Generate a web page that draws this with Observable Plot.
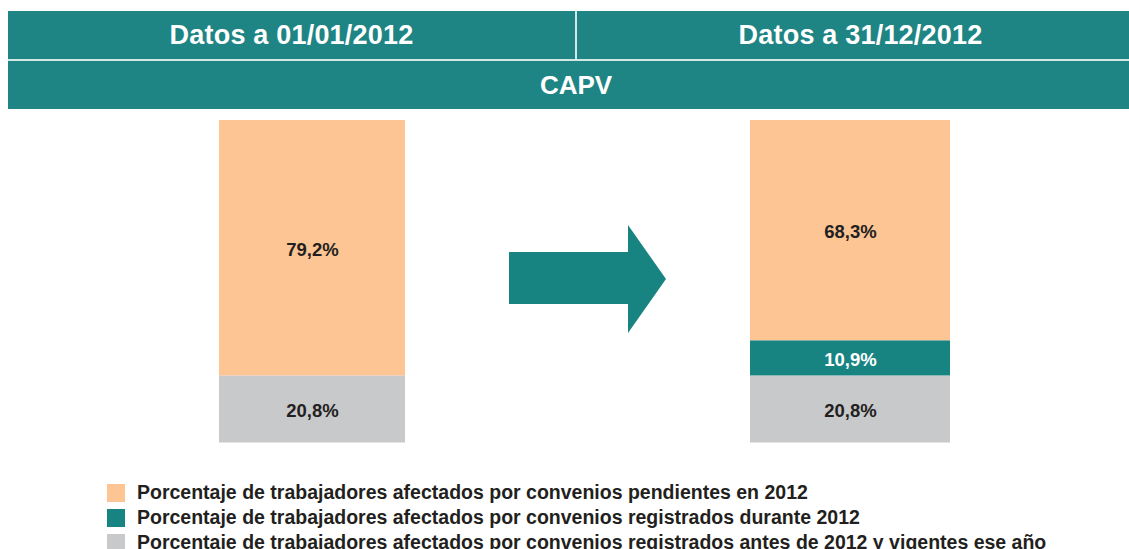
<!DOCTYPE html>
<html>
<head>
<meta charset="utf-8">
<script src="https://cdn.jsdelivr.net/npm/d3@7"></script>
<script src="https://cdn.jsdelivr.net/npm/@observablehq/plot@0.6"></script>
<style>
  html, body { margin: 0; padding: 0; background: #fff; overflow: hidden; }
  body { width: 1129px; height: 549px; position: relative; font-family: "Liberation Sans", Arial, sans-serif; }
  #header { position: absolute; left: 8px; top: 11px; width: 1136px; height: 98px; background: #1f8584; color: #fff; font-weight: bold; }
  #header .row1 { position: absolute; left: 0; top: 0; width: 100%; height: 48px; border-bottom: 2px solid #d3e8e6; display: flex; }
  #header .cell { flex: none; display: flex; align-items: center; justify-content: center; font-size: 27px; letter-spacing: 0.2px; height: 48px; }
  #header .cell.left { width: 567px; border-right: 2px solid #d3e8e6; }
  #header .cell.right { width: 567px; }
  #header .row2 { position: absolute; left: 0; top: 50px; width: 100%; height: 48px; display: flex; align-items: center; justify-content: center; font-size: 26px; }
  #chart { position: absolute; left: 0; top: 109px; }
  #arrow { position: absolute; left: 509px; top: 225px; width: 157px; height: 108px; background: #178482;
           clip-path: polygon(0 27px, 119px 27px, 119px 0, 157px 54px, 119px 108px, 119px 79px, 0 79px); }
  #legend { position: absolute; left: 107px; top: 480px; }
  #legend .item { display: flex; align-items: center; height: 25px; font-size: 19.5px; font-weight: bold; color: #231f20; white-space: nowrap; }
  #legend .sw { width: 18px; height: 18px; margin-right: 12px; flex: none; }
</style>
</head>
<body>
<div id="header">
  <div class="row1"><div class="cell left" id="h1"></div><div class="cell right" id="h2"></div></div>
  <div class="row2" id="h3"></div>
</div>
<div id="chart"></div>
<div id="arrow"></div>
<div id="legend"></div>
<script>
// ---- data ----
const periods = ["Datos a 01/01/2012", "Datos a 31/12/2012"];
const region = "CAPV";
const categories = ["pendientes", "registradosDurante", "registradosAntes"];
const pendientes = [79.2, 68.3];
const registradosDurante = [0, 10.9];
const registradosAntes = [20.8, 20.8];
const legendLabels = [
  "Porcentaje de trabajadores afectados por convenios pendientes en 2012",
  "Porcentaje de trabajadores afectados por convenios registrados durante 2012",
  "Porcentaje de trabajadores afectados por convenios registrados antes de 2012 y vigentes ese año"
];
const colors = ["#fdc594", "#178482", "#c8c9cb"];
const labelColors = ["#231f20", "#ffffff", "#231f20"];

document.getElementById("h1").textContent = periods[0];
document.getElementById("h2").textContent = periods[1];
document.getElementById("h3").textContent = region;

// build stacked table (bottom to top: antes, durante, pendientes)
const series = [pendientes, registradosDurante, registradosAntes];
const rows = [];
periods.forEach((p, i) => {
  let base = 0;
  [2, 1, 0].forEach(c => {
    const v = series[c][i];
    rows.push({period: p, idx: i, cat: categories[c], c, value: v, y1: base, y2: base + v});
    base += v;
  });
});

const halfWidths = [93, 100];
const fmt = v => v.toFixed(1).replace(".", ",") + "%";

const marks = [];
periods.forEach((p, i) => {
  marks.push(Plot.rect(rows.filter(d => d.idx === i && d.value > 0), {
    x1: "idx", x2: "idx", y1: "y1", y2: "y2",
    fill: d => colors[d.c],
    insetLeft: -halfWidths[i], insetRight: -halfWidths[i]
  }));
});
marks.push(Plot.text(rows.filter(d => d.value > 0), {
  x: "idx", y: d => (d.y1 + d.y2) / 2, text: d => fmt(d.value),
  fill: d => labelColors[d.c], fontSize: 18.5, fontWeight: "bold", dy: 1.5
}));

const chart = Plot.plot({
  width: 1129,
  height: 360,
  margin: 0,
  x: {type: "linear", domain: [0, 1], range: [312, 850], axis: null},
  y: {domain: [0, 100], range: [333.5, 11], axis: null},
  style: {fontFamily: "'Liberation Sans', Arial, sans-serif", background: "transparent"},
  marks
});
document.getElementById("chart").appendChild(chart);

const legend = document.getElementById("legend");
legendLabels.forEach((t, k) => {
  const item = document.createElement("div");
  item.className = "item";
  const sw = document.createElement("div");
  sw.className = "sw";
  sw.style.background = colors[k];
  const lab = document.createElement("span");
  lab.textContent = t;
  item.appendChild(sw); item.appendChild(lab);
  legend.appendChild(item);
});
</script>
</body>
</html>
